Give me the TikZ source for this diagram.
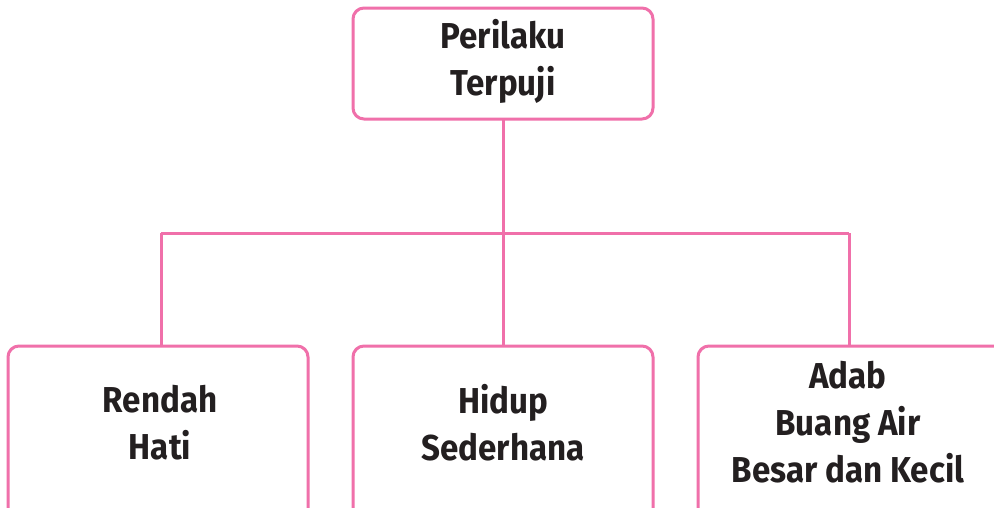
\documentclass[tikz,border=0pt]{standalone}
\usepackage{fontspec}
\setmainfont{Fira Sans}[FakeStretch=0.92]
\definecolor{pinkline}{RGB}{240,112,170}
\definecolor{txt}{RGB}{35,31,32}
\begin{document}
\begin{tikzpicture}[x=1pt,y=-1pt,
  box/.style={draw=pinkline,line width=3pt,rounded corners=11pt,fill=white},
  lbl/.style={align=center,text=txt,font=\fontsize{36}{47}\selectfont\bfseries,inner sep=0pt},
  link/.style={draw=pinkline,line width=3pt}]
\useasboundingbox (0,0) rectangle (994,507);
\clip (0,0) rectangle (994,507);
\fill[white] (0,0) rectangle (994,507);
% boxes
\draw[box] (353,8) rectangle (653,119);
\draw[box] (8,346) rectangle (308,530);
\draw[box] (353,346) rectangle (653,530);
\draw[box] (698,346) rectangle (1010,530);
% named anchor points
\coordinate (topb) at (503,119);
\coordinate (junc) at (503,233);
\coordinate (lj) at (161,233);
\coordinate (rj) at (849,233);
\coordinate (lt) at (161,346);
\coordinate (mt) at (503,346);
\coordinate (rt) at (849,346);
\draw[link] (topb) -- (junc);
\draw[link] (lj) -- (rj);
\draw[link] (lj) -- (lt);
\draw[link] (junc) -- (mt);
\draw[link] (rj) -- (rt);
% labels
\node[lbl] (top) at (503,61) {Perilaku\\Terpuji};
\node[lbl] (left) at (160,423) {Rendah\\Hati};
\node[lbl] (mid) at (503,423) {Hidup\\Sederhana};
\node[lbl] (right) at (848,422) {Adab\\Buang Air\\Besar dan Kecil};
\end{tikzpicture}
\end{document}
